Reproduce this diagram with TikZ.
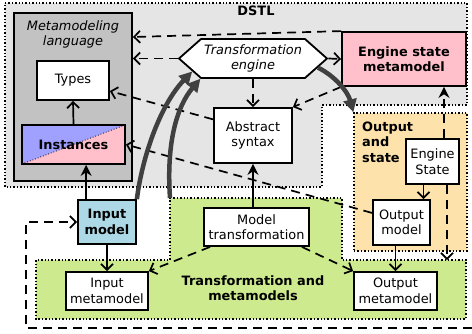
\documentclass[tikz,border=0pt]{standalone}
\usepackage{fontspec}
\setmainfont{DejaVu Sans}
\usetikzlibrary{shapes.symbols, arrows.meta}
\definecolor{dstlgray}{HTML}{E5E5E5}
\definecolor{langgray}{HTML}{C2C2C2}
\definecolor{inblue}{HTML}{ADD8E6}
\definecolor{instblue}{HTML}{A0A0FF}
\definecolor{espink}{HTML}{FFC0CB}
\definecolor{outorange}{HTML}{FDE2AC}
\definecolor{trgreen}{HTML}{CDEB8E}
\definecolor{arrowgray}{HTML}{404040}
\newcommand{\dfont}{\fontsize{12.9}{15.5}\selectfont}
\tikzstyle{box} = [rectangle, draw=black, line width=1.8pt, fill=white, inner sep=0pt, align=center]
\tikzstyle{region} = [draw=black, dotted, line width=1.4pt]
\tikzstyle{btext} = [font=\dfont\bfseries]
\tikzstyle{itext} = [font=\dfont\itshape]
\tikzstyle{conf} = [line width=1.7pt, -{Straight Barb[length=6pt,width=12pt]}]
\tikzstyle{dep} = [line width=1.7pt, dash pattern=on 9pt off 6pt, -{Straight Barb[length=6pt,width=12pt]}]
\tikzstyle{feed} = [line width=1.7pt, -{Stealth[length=11pt,width=11pt]}]
\tikzstyle{flow} = [draw=arrowgray, line width=4.5pt, -{Triangle[length=13pt,width=13pt]}]

\begin{document}
\begin{tikzpicture}[x=1pt, y=-1pt, font=\dfont]
  \useasboundingbox (0,0) rectangle (472,333);

  % regions
  \draw[region, fill=dstlgray] (5,3) -- (467,3) -- (467,105) -- (322,105) -- (322,187) -- (5,187) -- cycle;
  \draw[region, fill=trgreen] (170,198) -- (342,198) -- (342,260) -- (466,260) -- (466,319) -- (36,319) -- (36,260) -- (170,260) -- cycle;
  \coordinate (trtop) at (170,198);
  \coordinate (trmid) at (447,260);
  \coordinate (loop) at (472,328);
  \node[region, fill=outorange, minimum width=113pt, minimum height=138pt, inner sep=0pt] (outstate) at (410.5,182) {};

  \node[btext] (dstl) at (256,11) {DSTL};
  \node[btext, anchor=west, align=left, inner sep=0pt] (outlabel) at (362,142) {Output\\and\\state};
  \node[btext, align=center] (trlabel) at (253,288) {Transformation and\\metamodels};

  % metamodeling language
  \node[box, fill=langgray, minimum width=118pt, minimum height=168pt] (mml) at (73,97) {};
  \node[itext, align=center] (mmltitle) at (73,34.5) {Metamodeling\\language};
  \node[box, minimum width=72pt, minimum height=39pt] (types) at (73,80.5) {Types};
  \node[box, btext, fill=espink, minimum width=103pt, minimum height=39pt,
    path picture={
      \fill[instblue] (path picture bounding box.north west) -- (path picture bounding box.north east) -- (path picture bounding box.south west) -- cycle;
      \draw[dotted, line width=0.8pt] (path picture bounding box.south west) -- (path picture bounding box.north east);
    }] (inst) at (73.5,144.5) {Instances};

  % engine
  \node[box, itext, shape=signal, signal to=west and east, signal pointer angle=83, minimum width=148pt, minimum height=39pt] (engine) at (253,58.5) {Transformation\\engine};
  \node[box, btext, fill=espink, minimum width=124pt, minimum height=54pt] (esm) at (404,59) {Engine state\\metamodel};
  \node[box, minimum width=78pt, minimum height=55pt] (abs) at (253,135.5) {Abstract\\syntax};
  \node[box, minimum width=53pt, minimum height=45pt] (estate) at (432.5,161.5) {Engine\\State};

  % models
  \node[box, btext, fill=inblue, minimum width=58pt, minimum height=44pt] (inmodel) at (107,222) {Input\\model};
  \node[box, minimum width=57pt, minimum height=45pt] (outmodel) at (401.5,222.5) {Output\\model};
  \node[box, minimum width=105pt, minimum height=38pt] (modeltrans) at (256.5,227) {Model\\transformation};
  \node[box, minimum width=82pt, minimum height=38pt] (inmm) at (107,291) {Input\\metamodel};
  \node[box, minimum width=83pt, minimum height=38pt] (outmm) at (395.5,291) {Output\\metamodel};

  % conformance
  \draw[conf] (inst.north) -- (types.south);
  \draw[conf] (inmodel.south) -- (inmm.north);
  \draw[conf] (outmm.north |- outmodel.south) -- (outmm.north);
  \draw[conf] ([xshift=-9pt]estate.south) -- ([xshift=-9pt]estate.south |- outmodel.north);

  % dependencies
  \draw[dep] (esm.north west) -- (mml.east |- 0,37);
  \draw[dep] (engine.west) -- (mml.east |- engine.west);
  \draw[dep] (engine.east) -- (esm.west);
  \draw[dep] (engine.south) -- (abs.north);
  \draw[dep] (esm.south west) -- (abs.north east);
  \draw[dep] (abs.158) -- (types.-16);
  \draw[dep] (outmodel.162) -- (inst.east);
  \draw[dep] ([xshift=7pt]modeltrans.south west) -- (inmm.north east);
  \draw[dep] ([xshift=-8pt]modeltrans.south east) -- (outmm.north west);
  \draw[dep] ([xshift=14.5pt]estate.south) -- (trmid);
  \draw[dep] (loop) -- (26,328) |- (inmodel.west);
  \draw[feed, dash pattern=on 9pt off 6pt] ([xshift=11.5pt]estate.north) -- ([xshift=11.5pt]estate.north |- esm.south);

  % uses
  \draw[feed] ([xshift=9pt]inmodel.north west) -- ([xshift=9pt]inmodel.north west |- inst.south);
  \draw[feed] (abs.south |- modeltrans.north) -- (abs.south);

  % execution
  \draw[flow] (inmodel.north east) .. controls (142,158) and (160,105) .. (engine.192);
  \draw[flow] (trtop) .. controls (166,140) and (178,105) .. (engine.201);
  \draw[flow] (engine.-8) .. controls (335,76) and (348,92) .. (outstate.north west);
\end{tikzpicture}
\end{document}
